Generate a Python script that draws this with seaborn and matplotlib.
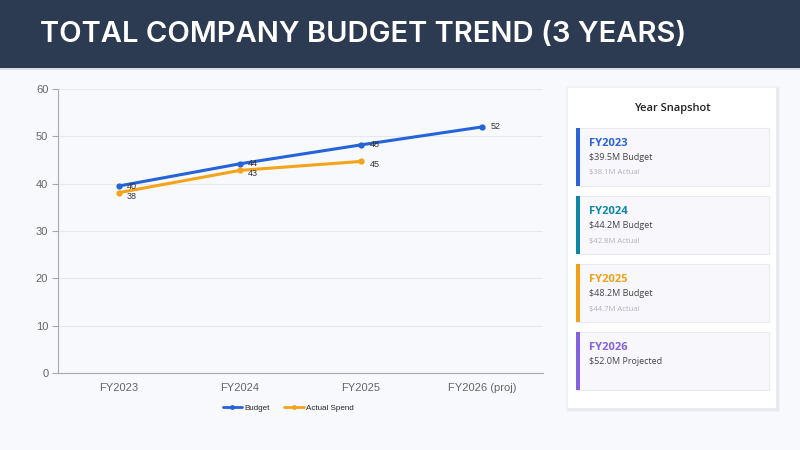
import matplotlib
matplotlib.use("Agg")
import matplotlib.pyplot as plt
from matplotlib.patches import Rectangle
import seaborn as sns
import pandas as pd

# ---- data ----
categories = ["FY2023", "FY2024", "FY2025", "FY2026 (proj)"]
budget = [39.5, 44.2, 48.2, 52.0]
actual = [38.1, 42.8, 44.7]
card_years = ["FY2023", "FY2024", "FY2025", "FY2026"]
card_main = ["$39.5M Budget", "$44.2M Budget", "$48.2M Budget", "$52.0M Projected"]
card_sub = ["$38.1M Actual", "$42.8M Actual", "$44.7M Actual", ""]
card_colors = ["#2b63d9", "#0e86a6", "#f2a019", "#8461e0"]
title = "TOTAL COMPANY BUDGET TREND (3 YEARS)"

BLUE = "#2563d9"
ORANGE = "#f5a31a"
BG = "#f8f9fc"

sns.set_theme(style="white")
plt.rcParams["font.family"] = ["Liberation Sans", "DejaVu Sans"]

fig = plt.figure(figsize=(8, 4.5), dpi=100)
fig.patch.set_facecolor(BG)

def fx(px):
    return px / 800.0

def fy(py):
    return 1 - py / 450.0

# header
fig.patches.append(Rectangle((0, fy(68)), 1, 68 / 450, transform=fig.transFigure,
                             facecolor="#2c3b51", edgecolor="none", zorder=0))
fig.patches.append(Rectangle((0, fy(70)), 1, 2 / 450, transform=fig.transFigure,
                             facecolor="#d9dde5", edgecolor="none", zorder=0))
fig.text(fx(40), fy(35), title, color="white", fontsize=21, fontweight="semibold",
         family=["Inter", "DejaVu Sans"], va="center", ha="left")

# chart
ax = fig.add_axes([fx(58), fy(373), fx(543) - fx(58), fy(89) - fy(373)])
ax.set_facecolor(BG)

df_b = pd.DataFrame({"cat": categories, "val": budget, "series": "Budget"})
df_a = pd.DataFrame({"cat": categories[:len(actual)], "val": actual, "series": "Actual Spend"})
df = pd.concat([df_b, df_a], ignore_index=True)
df["x"] = df["cat"].map({c: i for i, c in enumerate(categories)})

sns.lineplot(data=df, x="x", y="val", hue="series", palette={"Budget": BLUE, "Actual Spend": ORANGE},
             marker="o", markersize=4.5, markeredgewidth=0, linewidth=2.2, ax=ax, legend=True)

for s, vals, dy in (("Budget", budget, 0), ("Actual Spend", actual, -2.5)):
    for i, v in enumerate(vals):
        ax.annotate(f"{v:.0f}", (i, v), xytext=(6, dy),
                    textcoords="offset points", fontsize=6.5, color="#333333",
                    va="center", ha="left")

ax.set_xlim(-0.5, len(categories) - 0.5)
ax.set_ylim(0, 60)
ax.set_yticks(range(0, 61, 10))
ax.set_xticks(range(len(categories)))
ax.set_xticklabels(categories)
ax.set_xticks([i - 0.5 for i in range(len(categories) + 1)], minor=True)
ax.tick_params(axis="x", which="major", length=0, pad=7, labelsize=8, labelcolor="#666666")
ax.tick_params(axis="x", which="minor", length=4, color="#aaaaaa", width=0.8)
ax.tick_params(axis="y", length=4, color="#aaaaaa", width=0.8, labelsize=8, labelcolor="#666666", pad=3, left=True)
ax.set_xlabel("")
ax.set_ylabel("")
ax.grid(axis="y", color="#e6e8ec", linewidth=0.8)
for side in ("top", "right"):
    ax.spines[side].set_visible(False)
for side in ("left", "bottom"):
    ax.spines[side].set_color("#aaaaaa")
    ax.spines[side].set_linewidth(0.8)

leg = ax.legend(loc="upper center", bbox_to_anchor=(0.475, -0.085), ncol=2, frameon=False,
                fontsize=5.8, handlelength=2.4, columnspacing=1.8, handletextpad=0.3)
for h in leg.get_lines():
    h.set_linewidth(2.0)
    h.set_markersize(3.5)

# side panel (soft shadow + white card)
for pad, col in ((3, "#f0f1f5"), (1.5, "#e8eaef")):
    fig.patches.append(Rectangle((fx(568 - pad + 1), fy(408 + pad + 1)), fx(208 + 2 * pad), (320 + 2 * pad) / 450,
                                 transform=fig.transFigure, facecolor=col, edgecolor="none", zorder=1))
fig.patches.append(Rectangle((fx(568), fy(408)), fx(208), 320 / 450,
                             transform=fig.transFigure, facecolor="white", edgecolor="none", zorder=2))
fig.text(fx(672), fy(108), "Year Snapshot", fontsize=8, fontweight="semibold", color="#222222",
         family=["Open Sans", "DejaVu Sans"], ha="center", va="center", zorder=5)

card_tops = [128, 196, 264, 332]
card_h = 58
for i, top in enumerate(card_tops):
    fig.patches.append(Rectangle((fx(576), fy(top + card_h)), fx(769) - fx(576), card_h / 450,
                                 transform=fig.transFigure, facecolor="#f8f8fc", edgecolor="#e8eaef",
                                 linewidth=0.8, zorder=3))
    fig.patches.append(Rectangle((fx(576), fy(top + card_h)), fx(4), card_h / 450,
                                 transform=fig.transFigure, facecolor=card_colors[i], edgecolor="none",
                                 zorder=4))
    fig.text(fx(589), fy(top + 15), card_years[i], fontsize=8, fontweight="bold", color=card_colors[i],
             family=["Open Sans", "DejaVu Sans"], ha="left", va="center", zorder=5)
    fig.text(fx(589), fy(top + 30), card_main[i], fontsize=6.5, color="#444444",
             family=["Open Sans", "DejaVu Sans"], ha="left", va="center", zorder=5)
    if card_sub[i]:
        fig.text(fx(589), fy(top + 45), card_sub[i], fontsize=5.5, color="#b0b0b8",
                 family=["Open Sans", "DejaVu Sans"], ha="left", va="center", zorder=5)

fig.savefig("out.png", dpi=100, facecolor=fig.get_facecolor())
